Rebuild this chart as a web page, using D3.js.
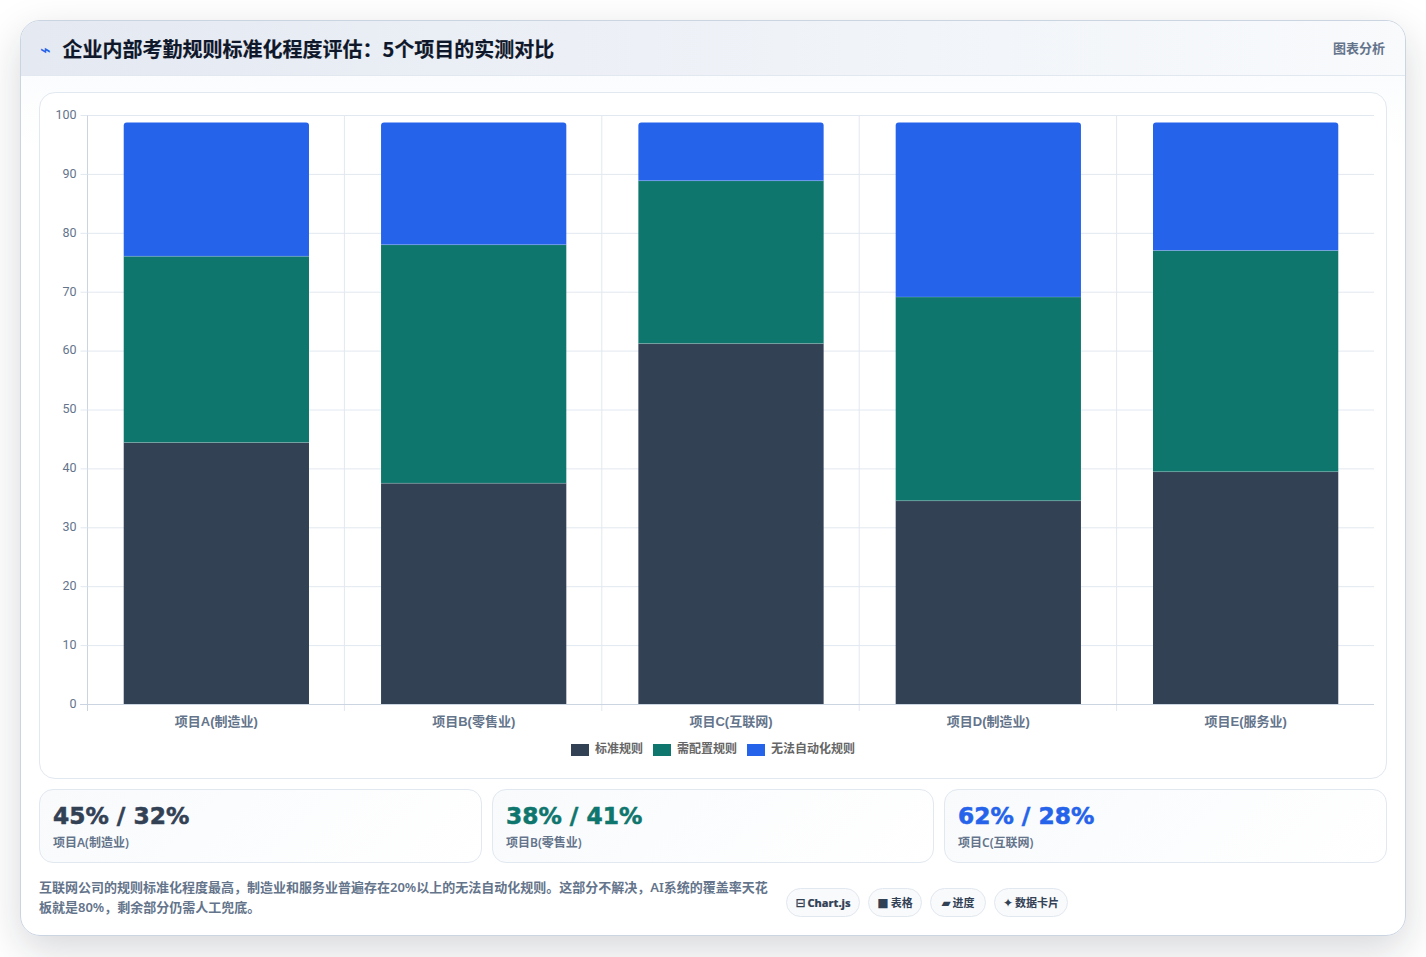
<!DOCTYPE html>
<html lang="zh-CN">
<head>
<meta charset="utf-8">
<title>企业内部考勤规则标准化程度评估</title>
<script src="https://cdn.jsdelivr.net/npm/d3@7/dist/d3.min.js"></script>
<style>
  * { box-sizing: border-box; }
  html, body { margin: 0; width: 1426px; height: 957px; overflow: hidden; background: #fff;
    font-family: "Liberation Sans", "Noto Sans CJK SC", sans-serif; }
  .abs { position: absolute; }
  #sheet { left: 20px; top: 20px; width: 1386px; height: 916px; background: linear-gradient(180deg,#f8fafc,#fff 14%); border-radius: 20px;
    border: 1px solid #cbd5e1; box-shadow: 0 14px 40px rgba(15,23,42,.17); overflow: hidden; }
  #bar { left: 0; top: 0; right: 0; height: 55px; background: linear-gradient(90deg,#e4e9f2,#f8fafc);
    border-bottom: 1px solid #e2e8f0; }
  #glyph { left: 40px; top: 39px; font: 700 18px "DejaVu Sans"; color: #2563eb; }
  #title { left: 62.5px; top: 36px; font: 700 20px/26px "Noto Sans CJK SC"; color: #0f172a; white-space: nowrap; -webkit-text-stroke: .2px #0f172a; }
  #tag { right: 41px; top: 39px; font: 600 13px/18px "Noto Sans CJK SC"; color: #64748b; }
  #panel { left: 39px; top: 92px; width: 1348px; height: 687px; border: 1px solid #e2e8f0; border-radius: 16px; background: #fff; }
  svg { position: absolute; left: 0; top: 0; }
  .kpi { top: 789px; height: 74px; border: 1px solid #e2e8f0; border-radius: 14px;
    background: linear-gradient(135deg,#f8fafc,#fff); padding-left: 13px; }
  .kpi b { display: block; margin-top: 10px; font: 700 23.3px/32px "DejaVu Sans", sans-serif; white-space: nowrap; -webkit-text-stroke: .55px currentColor; }
  .kpi span { display: block; margin-top: 2px; font: 600 12px/18px "Noto Sans", "Noto Sans CJK SC"; color: #64748b; }
  #note { left: 39px; top: 876.5px; width: 735px; font: 600 13px/20px "Noto Sans", "Noto Sans CJK SC"; color: #64748b; }
  .chip { top: 888px; height: 29px; border: 1px solid #e2e8f0; border-radius: 15px; background: #f8fafc;
    font: 600 11px/27px "Noto Sans CJK SC"; color: #334155; text-align: center; white-space: nowrap; }
  .chip i { font: 700 12px "DejaVu Sans"; margin-right: 2px; font-style: normal; }
  .chip em { font: 800 11px "Noto Sans", sans-serif; font-style: normal; -webkit-text-stroke: .2px currentColor; }
</style>
</head>
<body>
<div id="sheet" class="abs"><div id="bar" class="abs"></div></div>
<div id="glyph" class="abs">⌁</div>
<div id="title" class="abs">企业内部考勤规则标准化程度评估：5个项目的实测对比</div>
<div id="tag" class="abs">图表分析</div>
<div id="panel" class="abs"></div>
<div id="note" class="abs">互联网公司的规则标准化程度最高，制造业和服务业普遍存在20%以上的无法自动化规则。这部分不解决，AI系统的覆盖率天花<br>板就是80%，剩余部分仍需人工兜底。</div>
<script>
// Rule mix per project, in percent
const projects = ["项目A(制造业)", "项目B(零售业)", "项目C(互联网)", "项目D(制造业)", "项目E(服务业)"];
const seriesNames = ["标准规则", "需配置规则", "无法自动化规则"];
const standardRules = [45, 38, 62, 35, 40];
const configurableRules = [32, 41, 28, 35, 38];
const manualRules = [23, 21, 10, 30, 22];
const seriesColors = ["#334155", "#0f766e", "#2563eb"];
const yTicks = [0, 10, 20, 30, 40, 50, 60, 70, 80, 90, 100];

const summaryCards = [
  { value: "45% / 32%", name: "项目A(制造业)", color: "#334155", left: 39, width: 443 },
  { value: "38% / 41%", name: "项目B(零售业)", color: "#0f766e", left: 492, width: 442 },
  { value: "62% / 28%", name: "项目C(互联网)", color: "#2563eb", left: 944, width: 443 }
];
const chips = [
  { icon: "⊟", label: "Chart.js", left: 786, width: 74 },
  { icon: "■", label: "表格", left: 868, width: 54 },
  { icon: "▰", label: "进度", left: 930, width: 56 },
  { icon: "✦", label: "数据卡片", left: 994, width: 74 }
];

const plot = { left: 87, right: 1374, top: 115, bottom: 704 };
// Stacks settle at this share of their height, just under the top gridline
const settledShare = 0.988;

const svg = d3.select("body").append("svg").attr("width", 1426).attr("height", 957);

const x = d3.scaleBand().domain(projects).range([plot.left + 0.7, plot.right + 0.3]).paddingInner(0.28).paddingOuter(0.14);
const xCell = d3.scaleBand().domain(projects).range([plot.left, plot.right]);
const y = d3.scaleLinear().domain([0, 100]).range([plot.bottom, plot.top]);
const yMark = v => y(v * settledShare) + 0.4;
const colour = d3.scaleOrdinal(seriesNames, seriesColors);

// Gridlines
svg.append("g").selectAll("line").data(yTicks.slice(1)).join("line")
  .attr("x1", plot.left).attr("x2", plot.right)
  .attr("y1", d => y(d) + 0.5).attr("y2", d => y(d) + 0.5)
  .attr("stroke", "#e2e8f0");
svg.append("g").selectAll("line").data(projects.slice(1)).join("line")
  .attr("x1", d => xCell(d)).attr("x2", d => xCell(d))
  .attr("y1", plot.top).attr("y2", plot.bottom + 7)
  .attr("stroke", "#e2e8f0");

// Stacked columns
const rows = projects.map((p, i) => ({
  project: p,
  [seriesNames[0]]: standardRules[i],
  [seriesNames[1]]: configurableRules[i],
  [seriesNames[2]]: manualRules[i]
}));
const stack = d3.stack().keys(seriesNames)(rows);
const rounded = (x0, w, y0, y1, r) =>
  `M${x0},${y1}V${y0 + r}Q${x0},${y0} ${x0 + r},${y0}H${x0 + w - r}Q${x0 + w},${y0} ${x0 + w},${y0 + r}V${y1}Z`;
const layers = svg.append("g").selectAll("g").data(stack).join("g")
  .attr("fill", d => colour(d.key));
layers.selectAll("path").data(d => d.map(s => ({ s, top: d.key === seriesNames[2] }))).join("path")
  .attr("d", d => rounded(x(d.s.data.project), x.bandwidth(), yMark(d.s[1]), yMark(d.s[0]), d.top ? 3 : 0));
// Hairline seam between adjacent segments
svg.append("g").selectAll("g").data(stack.slice(0, 2)).join("g")
  .selectAll("line").data(d => d).join("line")
  .attr("x1", d => x(d.data.project)).attr("x2", d => x(d.data.project) + x.bandwidth())
  .attr("y1", d => yMark(d[1])).attr("y2", d => yMark(d[1]))
  .attr("stroke", "rgba(255,255,255,.2)");

// Axes
const yAxis = svg.append("g").attr("transform", `translate(${plot.left + 0.5},0)`)
  .call(d3.axisLeft(y).tickValues(yTicks).tickSize(7).tickPadding(4));
const xAxis = svg.append("g").attr("transform", `translate(0,${plot.bottom})`)
  .call(d3.axisBottom(x).tickSize(0).tickPadding(13));
yAxis.select(".domain").attr("stroke", "#cbd5e1").attr("d", `M0,${plot.top}V${plot.bottom + 7}`);
xAxis.select(".domain").attr("stroke", "#cbd5e1").attr("d", `M${plot.left - 7},0.5H${plot.right}`);
yAxis.selectAll(".tick line").attr("stroke", "#e2e8f0");
yAxis.selectAll("text").attr("y", -0.7).attr("fill", "#64748b").attr("font-size", 12.5).attr("font-family", "Roboto, 'Liberation Sans', sans-serif");
xAxis.selectAll("text").attr("fill", "#64748b").attr("font-size", 13).attr("font-weight", 600)
  .attr("font-family", "'Liberation Sans', 'Noto Sans CJK SC', sans-serif");

// Legend
const legendSpots = [571, 653, 747];
const legend = svg.append("g").selectAll("g").data(seriesNames).join("g")
  .attr("transform", (d, i) => `translate(${legendSpots[i]},744)`);
legend.append("rect").attr("width", 18).attr("height", 12).attr("fill", d => colour(d));
legend.append("text").text(d => d).attr("x", 24).attr("y", 8).attr("dy", "0.1em")
  .attr("fill", "#666").attr("font-size", 12).attr("font-weight", 600)
  .attr("font-family", "'Noto Sans CJK SC', sans-serif");

// Summary cards and footer chips
d3.select("body").selectAll(".kpi").data(summaryCards).join("div")
  .attr("class", "kpi abs")
  .style("left", d => d.left + "px").style("width", d => d.width + "px")
  .html(d => `<b style="color:${d.color}">${d.value}</b><span>${d.name}</span>`);
d3.select("body").selectAll(".chip").data(chips).join("div")
  .attr("class", "chip abs")
  .style("left", d => d.left + "px").style("width", d => d.width + "px")
  .html(d => `<i>${d.icon}</i>${d.label === "Chart.js" ? `<em>${d.label}</em>` : d.label}`);
</script>
</body>
</html>
